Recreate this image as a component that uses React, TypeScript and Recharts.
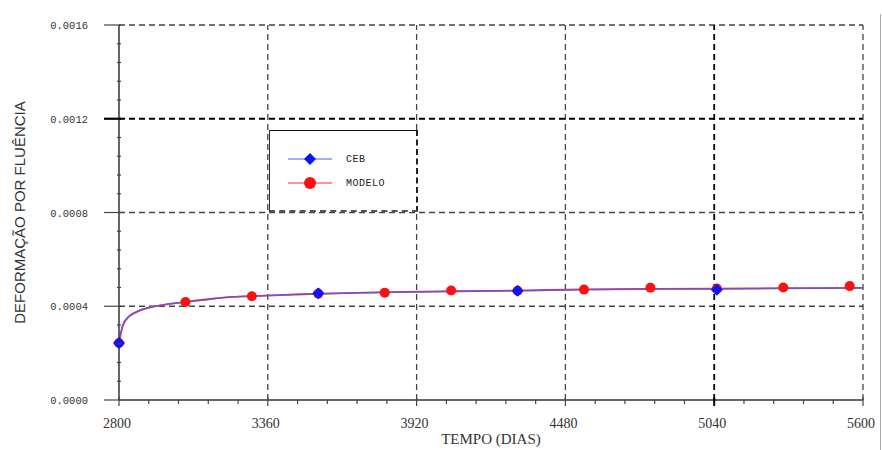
import {
  ComposedChart,
  Line,
  ReferenceLine,
  Scatter,
  XAxis,
  YAxis,
} from "recharts";

// readings taken off the reference curve (days, creep strain)
const CURVE_DAYS = [
  2800, 2806, 2814, 2835, 2867, 2917, 2980, 3048, 3142, 3229, 3300, 3550,
  3800, 4050, 4300, 4550, 4800, 5050, 5300, 5600,
];
const CEB_CURVE = [
  0.000243, 0.000282, 0.00032, 0.000355, 0.000378, 0.000396, 0.000409,
  0.000418, 0.00043, 0.00044, 0.000443, 0.000454, 0.000459, 0.000463,
  0.000466, 0.00047, 0.000473, 0.000474, 0.000476, 0.000478,
];
const MODELO_CURVE = [
  0.000243, 0.000278, 0.000316, 0.000353, 0.000376, 0.000395, 0.000408,
  0.000418, 0.000431, 0.00044, 0.000443, 0.000453, 0.00046, 0.000464,
  0.000467, 0.000472, 0.000474, 0.000475, 0.000477, 0.000478,
];

const MODELO_DAYS = [
  2800, 3050, 3300, 3550, 3800, 4050, 4300, 4550, 4800, 5050, 5300, 5550,
];
const MODELO_POINTS = [
  0.000243, 0.000418, 0.000443, 0.000454, 0.000458, 0.000467, 0.000466,
  0.000471, 0.000479, 0.000476, 0.00048, 0.000486,
];
const CEB_DAYS = [2800, 3550, 4300, 5050];
const CEB_POINTS = [0.000243, 0.000455, 0.000466, 0.00047];

const X_MAJOR = [2800, 3360, 3920, 4480, 5040, 5600];
const Y_MAJOR = [0, 0.0004, 0.0008, 0.0012, 0.0016];
const MINOR_PER_MAJOR = 5;

const BLUE = "#0a14ff";
const BLUE_LINE = "#4a5cff";
const RED = "#ff1010";
const RED_LINE = "#ff2a2a";
const GRID = "#444";

const zip = (xs: number[], ys: number[]) => xs.map((day, i) => ({ day, v: ys[i] }));
const subdivide = (majors: number[]) => {
  const out: number[] = [];
  majors.forEach((m, i) => {
    out.push(m);
    if (i < majors.length - 1) {
      const step = (majors[i + 1] - m) / MINOR_PER_MAJOR;
      for (let k = 1; k < MINOR_PER_MAJOR; k++) out.push(m + step * k);
    }
  });
  return out;
};

const X_TICKS = subdivide(X_MAJOR);
const Y_TICKS = subdivide(Y_MAJOR);

const isMajorY = (v: number) => Y_MAJOR.some((m) => Math.abs(m - v) < 1e-9);

function XTick({ x, y, payload }: any) {
  const v = payload.value;
  const major = X_MAJOR.includes(v);
  const bold = v === 5040;
  return (
    <g>
      <line
        x1={x}
        x2={x}
        y1={major ? y - 3 : y}
        y2={y + (major ? 6 : 4)}
        stroke={bold ? "#000" : "#444"}
        strokeWidth={bold ? 2 : 1.2}
      />
      {major && (
        <text
          x={x - 2}
          y={y + 28}
          textAnchor="middle"
          fontFamily="'Liberation Serif', serif"
          fontSize={14}
          fill="#333"
        >
          {v}
        </text>
      )}
    </g>
  );
}

function YTick({ x, y, payload }: any) {
  const v = payload.value;
  const major = isMajorY(v);
  const bold = Math.abs(v - 0.0012) < 1e-9;
  return (
    <g>
      <line
        x1={major ? x - 15 : x - 2}
        x2={x + 2}
        y1={y}
        y2={y}
        stroke={bold ? "#000" : "#444"}
        strokeWidth={bold ? 2.2 : 1.2}
      />
      {major && (
        <text
          x={x - 31}
          y={y + 4}
          textAnchor="end"
          fontFamily="'Liberation Mono', monospace"
          fontSize={10.5}
          fill="#333"
        >
          {v.toFixed(4)}
        </text>
      )}
    </g>
  );
}

const LEGEND_ITEMS = [
  { name: "CEB", color: BLUE, line: BLUE_LINE, shape: "diamond" },
  { name: "MODELO", color: RED, line: RED_LINE, shape: "circle" },
];

function LegendBox() {
  return (
    <div
      style={{
        position: "absolute",
        left: 269,
        top: 130,
        width: 149,
        height: 82,
        boxSizing: "border-box",
        background: "#fff",
        borderTop: "1.5px solid #111",
        borderLeft: "1px solid #333",
        borderRight: "2px dashed #222",
        borderBottom: "2px dashed #555",
        paddingTop: 16,
      }}
    >
      {LEGEND_ITEMS.map((it) => (
        <div key={it.name} style={{ display: "flex", alignItems: "center", height: 24 }}>
          <svg width={70} height={16}>
            <line x1={18} x2={62} y1={8} y2={8} stroke={it.line} strokeWidth={1.2} />
            {it.shape === "diamond" ? (
              <polygon points="40,2 46,8 40,14 34,8" fill={it.color} />
            ) : (
              <circle cx={40} cy={8} r={6} fill={it.color} />
            )}
          </svg>
          <span
            style={{
              fontFamily: "'Liberation Mono', monospace",
              fontSize: 10,
              color: "#222",
              marginLeft: 6,
              letterSpacing: 0.5,
            }}
          >
            {it.name}
          </span>
        </div>
      ))}
    </div>
  );
}

const Diamond = ({ cx, cy }: any) => (
  <polygon
    points={`${cx},${cy - 5.5} ${cx + 5.5},${cy} ${cx},${cy + 5.5} ${cx - 5.5},${cy}`}
    fill={BLUE}
    stroke={BLUE}
    strokeWidth={1}
    strokeLinejoin="round"
  />
);
const Dot = ({ cx, cy }: any) => <circle cx={cx} cy={cy} r={5} fill={RED} />;

export default function App() {
  return (
    <div style={{ position: "absolute", left: 0, top: 0, width: 882, height: 450, background: "#fff" }}>
      <ComposedChart
        width={882}
        height={450}
        margin={{ top: 25, right: 19, bottom: 0, left: 0 }}
      >
        <XAxis
          type="number"
          dataKey="day"
          domain={[2800, 5600]}
          ticks={X_TICKS}
          interval={0}
          tickSize={0}
          tickMargin={0}
          tickLine={false}
          tick={<XTick />}
          axisLine={{ stroke: "#333", strokeWidth: 1.5 }}
          height={50}
          label={{
            content: ({ viewBox }: any) => (
              <text
                x={viewBox.x + viewBox.width / 2}
                y={viewBox.y + 44}
                textAnchor="middle"
                fontFamily="'Liberation Serif', serif"
                fontSize={15}
                fill="#333"
              >
                TEMPO (DIAS)
              </text>
            ),
          }}
        />
        <YAxis
          type="number"
          dataKey="v"
          domain={[0, 0.0016]}
          ticks={Y_TICKS}
          interval={0}
          tickSize={0}
          tickMargin={0}
          tickLine={false}
          tick={<YTick />}
          axisLine={{ stroke: "#333", strokeWidth: 1.5 }}
          width={119}
          label={{
            content: ({ viewBox }: any) => {
              const cx = viewBox.x + 19;
              const cy = viewBox.y + viewBox.height / 2;
              return (
                <text
                  x={cx}
                  y={cy}
                  transform={`rotate(-90 ${cx} ${cy})`}
                  textAnchor="middle"
                  dominantBaseline="central"
                  fontFamily="'Liberation Sans', sans-serif"
                  fontSize={15}
                  fill="#333"
                >
                  DEFORMAÇÃO POR FLUÊNCIA
                </text>
              );
            },
          }}
        />
        {Y_MAJOR.slice(1).map((v) => (
          <ReferenceLine
            key={`y${v}`}
            y={v}
            stroke={v === 0.0012 ? "#000" : GRID}
            strokeWidth={v === 0.0012 ? 1.8 : 1.3}
            strokeDasharray="6 4"
          />
        ))}
        {X_MAJOR.slice(1).map((v) => (
          <ReferenceLine
            key={`x${v}`}
            x={v}
            stroke={v === 5040 ? "#000" : GRID}
            strokeWidth={v === 5040 ? 1.8 : 1.3}
            strokeDasharray="6 4"
          />
        ))}
        <Line
          data={zip(CURVE_DAYS, MODELO_CURVE)}
          dataKey="v"
          type="monotone"
          stroke={RED_LINE}
          strokeWidth={1.8}
          dot={false}
          isAnimationActive={false}
        />
        <Line
          data={zip(CURVE_DAYS, CEB_CURVE)}
          dataKey="v"
          type="monotone"
          stroke={BLUE_LINE}
          strokeOpacity={0.8}
          strokeWidth={1.5}
          dot={false}
          isAnimationActive={false}
        />
        <Scatter
          data={zip(MODELO_DAYS, MODELO_POINTS)}
          dataKey="v"
          shape={<Dot />}
          isAnimationActive={false}
        />
        <Scatter
          data={zip(CEB_DAYS, CEB_POINTS)}
          dataKey="v"
          shape={<Diamond />}
          isAnimationActive={false}
        />
      </ComposedChart>
      <LegendBox />
      <div
        style={{
          position: "absolute",
          left: 880,
          top: 14,
          width: 1,
          height: 436,
          background: "#aaa",
        }}
      />
    </div>
  );
}
